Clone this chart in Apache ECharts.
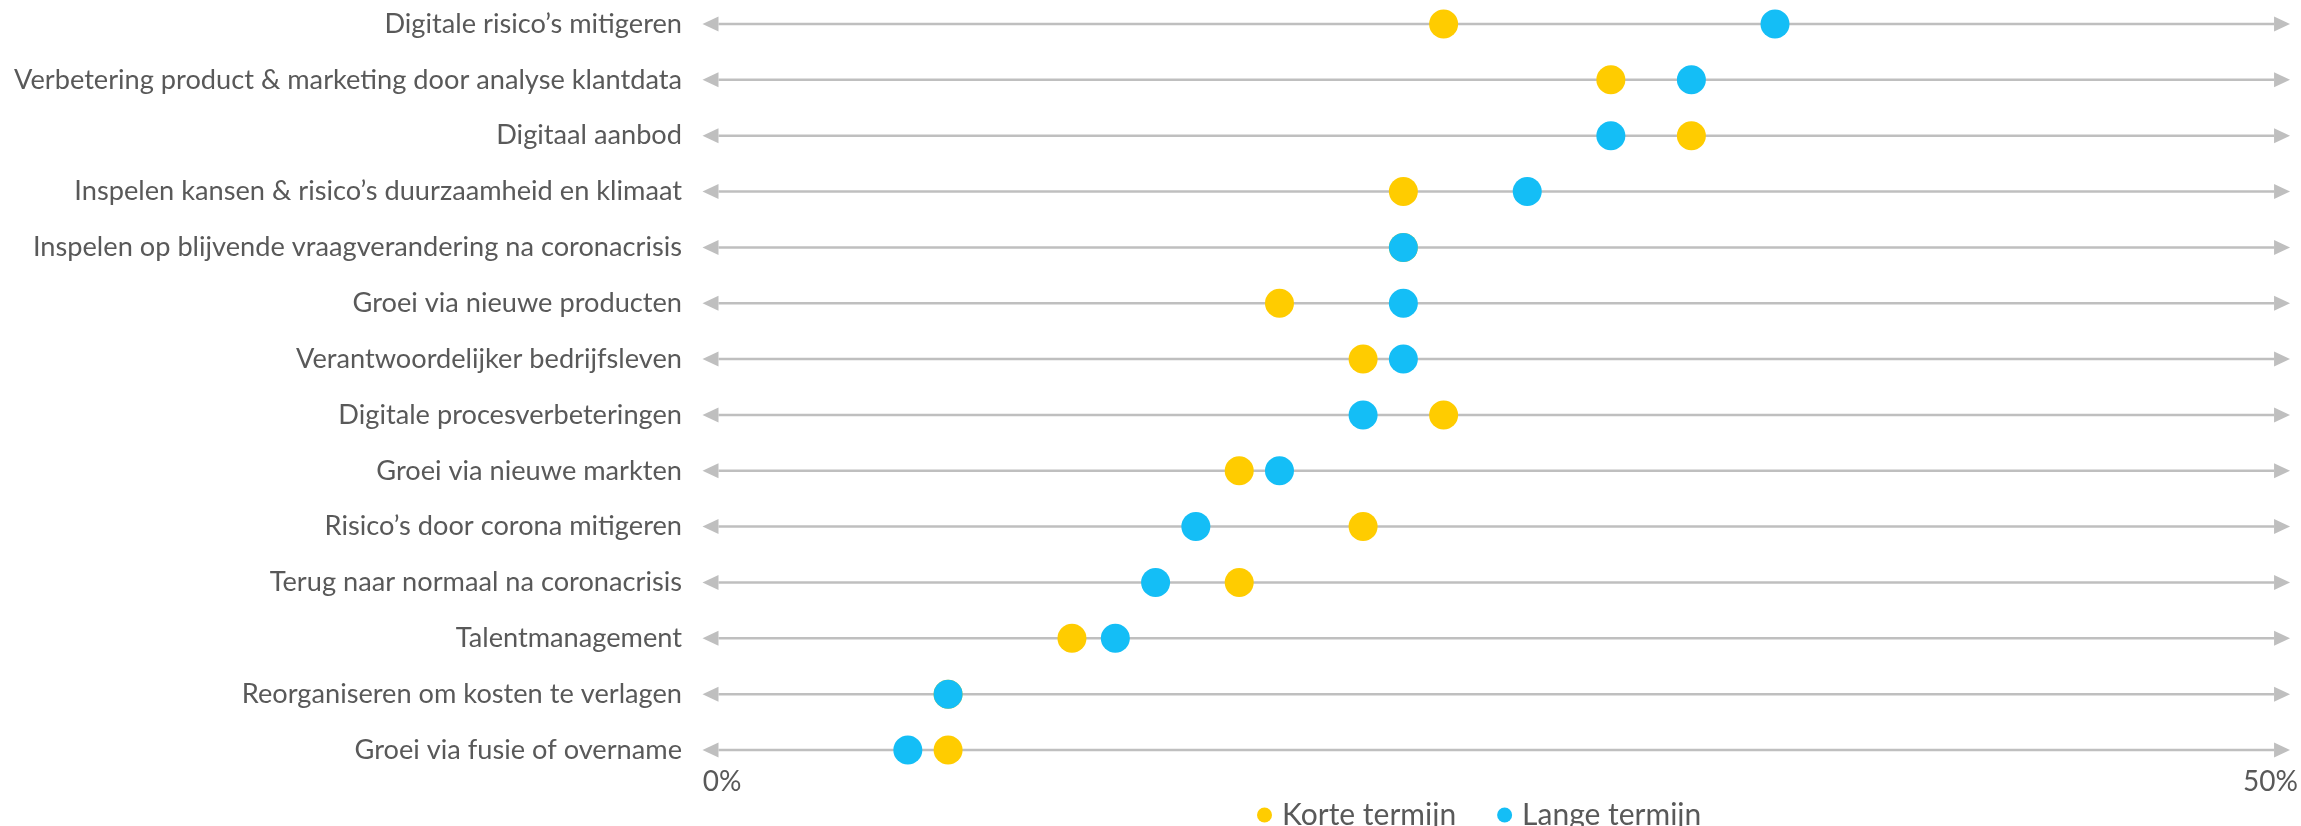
<!DOCTYPE html>
<html>
<head>
<meta charset="utf-8">
<script src="https://cdn.jsdelivr.net/npm/echarts@6/dist/echarts.min.js"></script>
<style>
  html, body { margin: 0; padding: 0; background: #fff; }
  #container { width: 2301px; height: 826px; }
</style>
</head>
<body>
<div id="container"></div>
<script>
// categories, top to bottom
var categories = [
  'Digitale risico\u2019s mitigeren',
  'Verbetering product & marketing door analyse klantdata',
  'Digitaal aanbod',
  'Inspelen kansen & risico\u2019s duurzaamheid en klimaat',
  'Inspelen op blijvende vraagverandering na coronacrisis',
  'Groei via nieuwe producten',
  'Verantwoordelijker bedrijfsleven',
  'Digitale procesverbeteringen',
  'Groei via nieuwe markten',
  'Risico\u2019s door corona mitigeren',
  'Terug naar normaal na coronacrisis',
  'Talentmanagement',
  'Reorganiseren om kosten te verlagen',
  'Groei via fusie of overname'
];
// percentages
var korteTermijn = [23.3, 28.7, 31.3, 22.0, 22.0, 18.0, 20.7, 23.3, 16.7, 20.7, 16.7, 11.3, 7.3, 7.3];
var langeTermijn = [34.0, 31.3, 28.7, 26.0, 22.0, 22.0, 22.0, 20.7, 18.0, 15.3, 14.0, 12.7, 7.3, 6.0];
var axisMin = 0, axisMax = 50;

var dom = document.getElementById('container');
var myChart = echarts.init(dom);
var txt = '#595959';
var font = 'Lato';
var lineColor = '#BFBFBF';

// double arrow across the whole axis for each category
function renderArrow(params, api) {
  var p0 = api.coord([api.value(0), api.value(2)]);
  var p1 = api.coord([api.value(1), api.value(2)]);
  var y = p0[1];
  var tip = 19.5, base = 3.5, half = 7.5;
  return {
    type: 'group',
    children: [
      {
        type: 'line',
        shape: { x1: p0[0] - base, y1: y, x2: p1[0] + base, y2: y },
        style: { stroke: lineColor, lineWidth: 2.5 }
      },
      {
        type: 'polygon',
        shape: { points: [[p0[0] - tip, y], [p0[0] - base, y - half], [p0[0] - base, y + half]] },
        style: { fill: lineColor }
      },
      {
        type: 'polygon',
        shape: { points: [[p1[0] + tip, y], [p1[0] + base, y - half], [p1[0] + base, y + half]] },
        style: { fill: lineColor }
      }
    ]
  };
}

var option = {
  animation: false,
  grid: { left: 722, right: 30, top: 24, bottom: 76 },
  legend: {
    left: 1252,
    top: 795,
    icon: 'circle',
    itemWidth: 15,
    itemHeight: 15,
    itemGap: 41,
    textStyle: { color: txt, fontSize: 30, fontFamily: font, padding: [0, 0, 0, 5] },
    data: ['Korte termijn', 'Lange termijn']
  },
  xAxis: {
    type: 'value',
    min: axisMin,
    max: axisMax,
    interval: 50,
    axisLine: { show: false },
    axisTick: { show: false },
    splitLine: { show: false },
    axisLabel: { formatter: '{value}%', color: txt, fontSize: 28, fontFamily: font, margin: 18 }
  },
  yAxis: {
    type: 'category',
    data: categories,
    inverse: true,
    boundaryGap: false,
    axisLine: { show: false },
    axisTick: { show: false },
    splitLine: { show: false },
    axisLabel: { color: txt, fontSize: 27.2, fontFamily: font, margin: 40 }
  },
  series: [
    {
      name: 'arrows',
      type: 'custom',
      silent: true,
      renderItem: renderArrow,
      encode: { x: [0, 1], y: 2 },
      data: categories.map(function (c, i) { return [axisMin, axisMax, i]; })
    },
    {
      name: 'Korte termijn',
      type: 'scatter',
      symbolSize: 29,
      itemStyle: { color: '#FFCC00', opacity: 1 },
      data: korteTermijn.map(function (v, i) { return [v, categories[i]]; })
    },
    {
      name: 'Lange termijn',
      type: 'scatter',
      symbolSize: 29,
      itemStyle: { color: '#14BEF6', opacity: 1 },
      data: langeTermijn.map(function (v, i) { return [v, categories[i]]; })
    }
  ]
};
myChart.setOption(option);
</script>
</body>
</html>
